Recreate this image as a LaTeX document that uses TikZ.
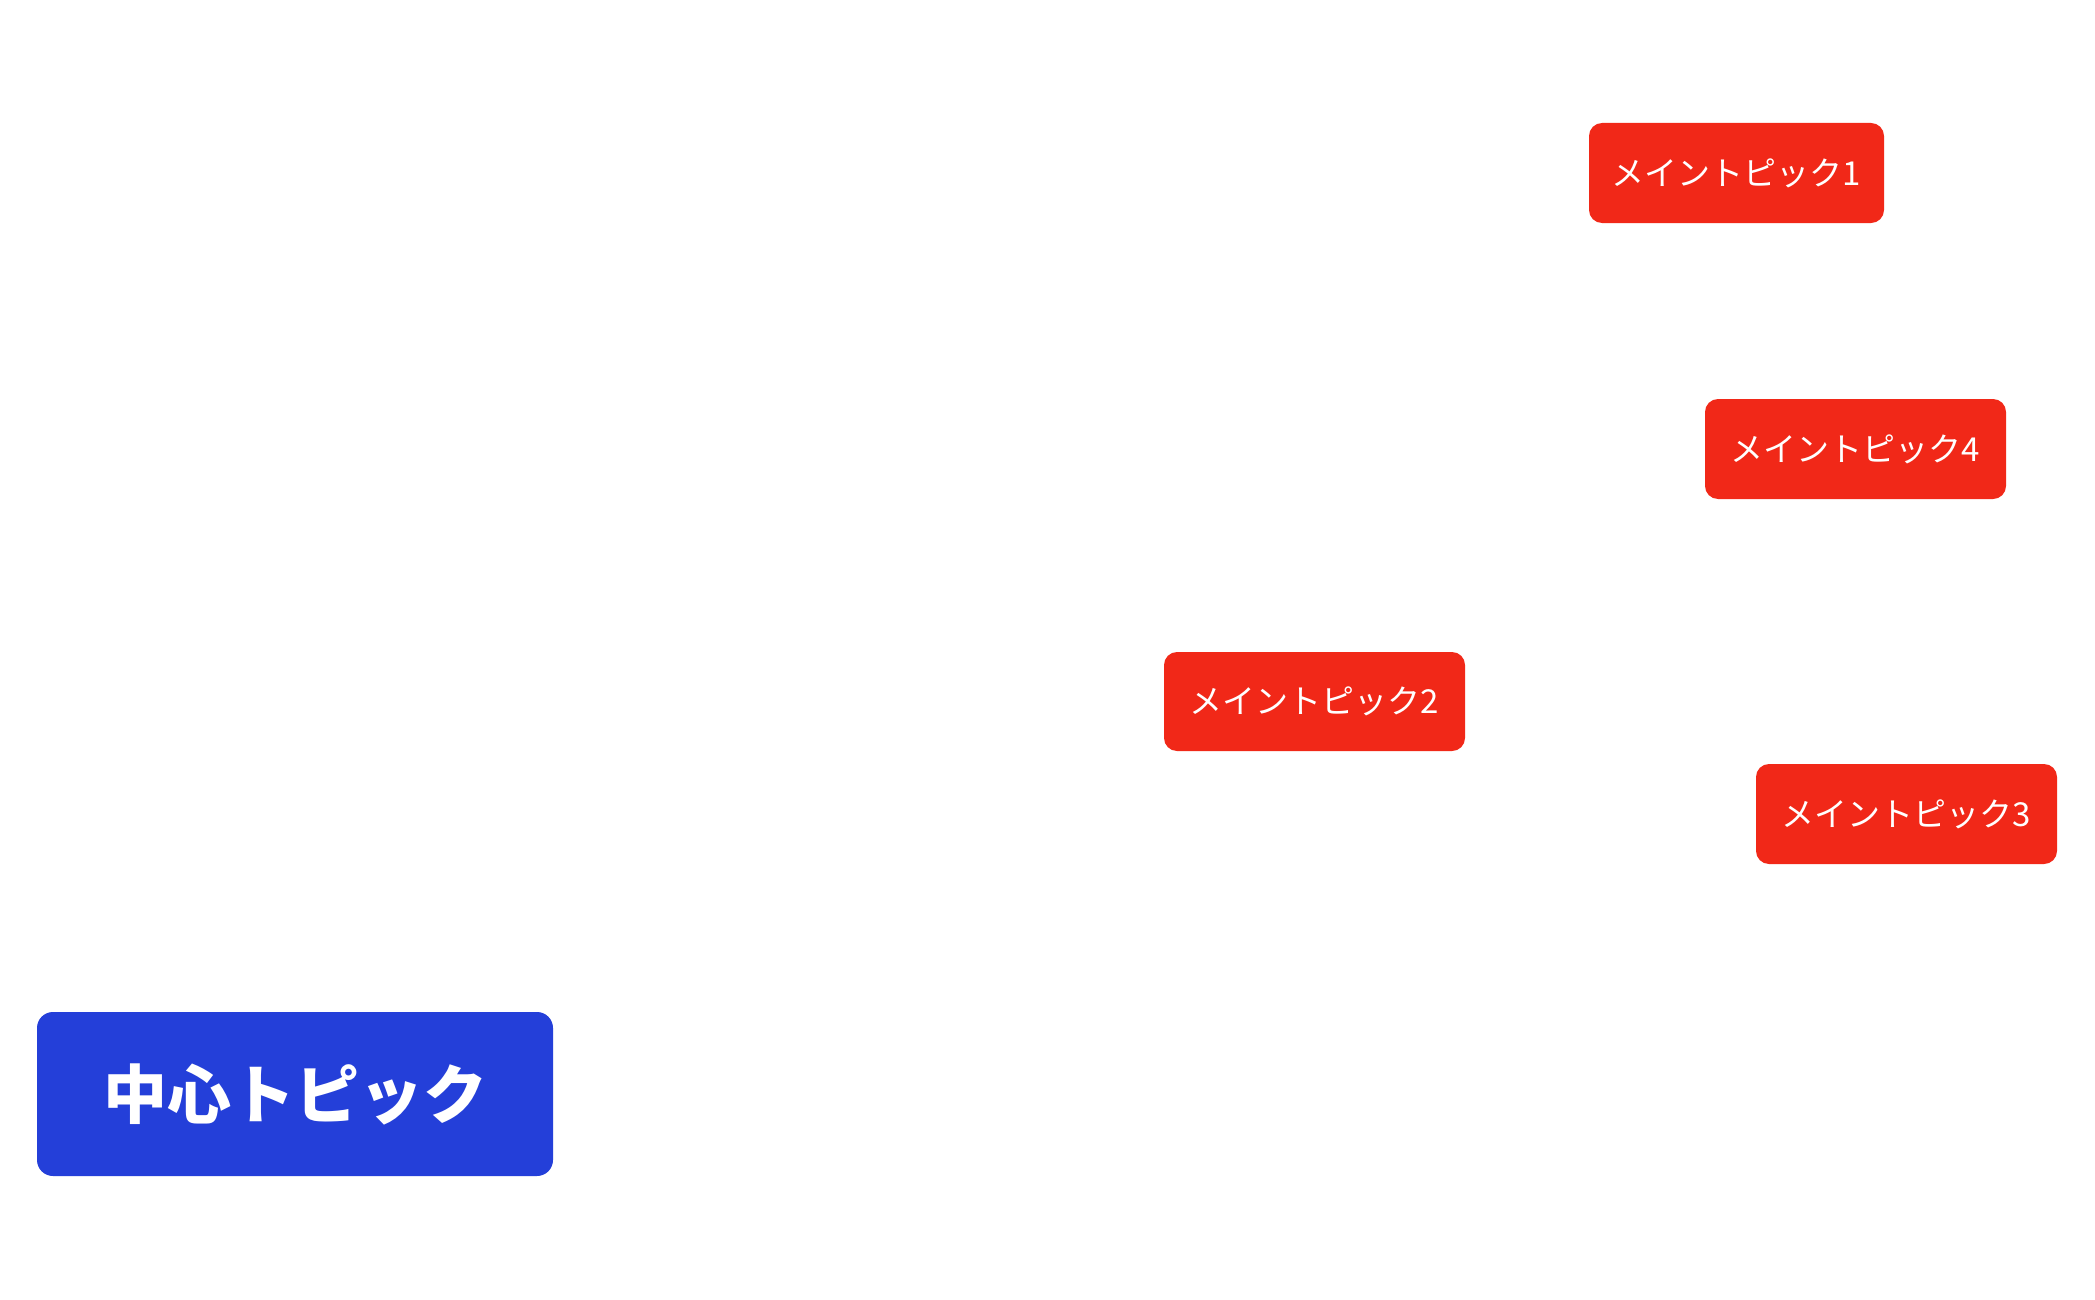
\documentclass[tikz,border=0pt]{standalone}
\usepackage{fontspec}
\newfontfamily\cjk{Noto Sans CJK JP}
\definecolor{topicred}{RGB}{241,40,24}
\definecolor{topicblue}{RGB}{36,63,217}
\begin{document}
\begin{tikzpicture}[x=1pt,y=-1pt,
  mainbox/.style={fill=topicred, draw=none, rounded corners=13pt, text=white,
    inner sep=0pt, minimum height=100pt, minimum width=301pt,
    font=\cjk\fontsize{33}{40}\selectfont},
  centralbox/.style={fill=topicblue, draw=none, rounded corners=16pt, text=white,
    inner sep=0pt, minimum height=164pt, minimum width=516pt,
    font=\cjk\bfseries\fontsize{64}{72}\selectfont}]
\useasboundingbox[fill=white] (0,0) rectangle (2095,1300);
\node[centralbox] (center) at (295,1094) {中心トピック};
\node[mainbox, minimum width=295pt] (m1) at (1736.5,173) {メイントピック1};
\node[mainbox] (m4) at (1855.5,449) {メイントピック4};
\node[mainbox, minimum height=99pt] (m2) at (1314.5,701.5) {メイントピック2};
\node[mainbox] (m3) at (1906.5,814) {メイントピック3};
\end{tikzpicture}
\end{document}
